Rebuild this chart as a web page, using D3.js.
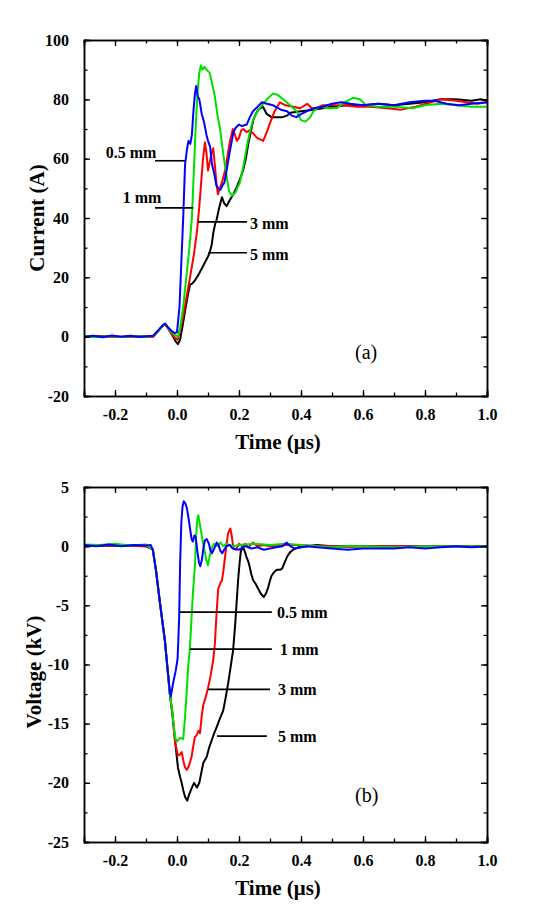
<!DOCTYPE html>
<html><head><meta charset="utf-8">
<script src="https://cdn.jsdelivr.net/npm/d3@7"></script>
<style>body{margin:0;background:#fff}svg{display:block}
svg text{font-family:"Liberation Serif","Times New Roman",serif !important;}</style>
</head><body>
<script>
// ---------- DATA ----------
const seriesNames = ["0.5 mm", "1 mm", "3 mm", "5 mm"];
const seriesColors = ["#0000ff", "#00e000", "#ff0000", "#000000"];

const xTicks = [-0.2, 0.0, 0.2, 0.4, 0.6, 0.8, 1.0];
const xTickLabels = ["-0.2", "0.0", "0.2", "0.4", "0.6", "0.8", "1.0"];
const currentTicks = [-20, 0, 20, 40, 60, 80, 100];
const currentTickLabels = ["-20", "0", "20", "40", "60", "80", "100"];
const voltageTicks = [-25, -20, -15, -10, -5, 0, 5];
const voltageTickLabels = ["-25", "-20", "-15", "-10", "-5", "0", "5"];

// (a) current (A) vs time (us)
const current05 = [[-0.3,0],[-0.27,0.3],[-0.24,-0.2],[-0.21,0.4],[-0.18,0],[-0.15,0.3],[-0.12,-0.1],[-0.09,0.2],[-0.077,0.3],[-0.06,2.2],[-0.045,4],[-0.038,4.4],[-0.03,3.3],[-0.018,2.0],[-0.008,1.2],[0.0,1.5],[0.008,10],[0.014,25],[0.02,40],[0.026,58],[0.032,63],[0.037,66],[0.043,65],[0.048,68],[0.053,76],[0.058,82],[0.062,84.5],[0.067,81],[0.072,80],[0.08,75],[0.088,72],[0.095,68],[0.1,66],[0.107,64],[0.113,58],[0.12,55],[0.127,51],[0.133,50],[0.14,49.5],[0.147,51],[0.153,52],[0.16,56],[0.168,61],[0.175,65],[0.182,69],[0.19,70.5],[0.2,71.5],[0.21,71],[0.225,71.5],[0.235,74],[0.245,76],[0.26,77.5],[0.274,79],[0.29,78.5],[0.31,78],[0.335,76.5],[0.355,76],[0.37,74.5],[0.385,74],[0.4,75],[0.42,76],[0.44,77],[0.47,77.5],[0.5,78.5],[0.53,79],[0.56,78.5],[0.6,78],[0.65,78.5],[0.7,78],[0.75,79],[0.8,79.5],[0.83,79.5],[0.87,78.5],[0.91,78],[0.95,78.5],[1.0,79]];
const current1 = [[-0.3,0.2],[-0.26,-0.2],[-0.22,0.2],[-0.18,-0.1],[-0.14,0.2],[-0.1,0],[-0.077,0.2],[-0.06,2],[-0.045,3.8],[-0.038,4.2],[-0.03,3.2],[-0.018,1.5],[-0.005,0.5],[0.003,0],[0.01,3],[0.02,10],[0.03,20],[0.04,30],[0.048,40],[0.054,55],[0.06,70],[0.066,82],[0.072,89],[0.077,91.5],[0.082,90],[0.088,91],[0.095,90],[0.105,89],[0.112,86],[0.122,81],[0.13,75],[0.139,70],[0.15,61],[0.16,54],[0.168,49],[0.177,47.5],[0.188,48.5],[0.203,52],[0.215,58],[0.225,64],[0.235,69],[0.245,73],[0.26,76],[0.274,78],[0.29,80],[0.31,82],[0.325,81.5],[0.342,80],[0.365,78],[0.386,76],[0.4,73],[0.415,72.5],[0.43,74],[0.44,76],[0.46,77.5],[0.49,77],[0.516,77],[0.54,79],[0.568,80.5],[0.59,80],[0.61,78],[0.65,77.5],[0.7,77.5],[0.76,77],[0.8,78],[0.85,78.5],[0.9,78],[0.95,77.5],[1.0,77.5]];
const current3 = [[-0.3,-0.2],[-0.25,0.2],[-0.2,-0.1],[-0.15,0.1],[-0.1,0],[-0.077,0],[-0.06,2],[-0.045,3.8],[-0.038,4.2],[-0.03,3],[-0.018,1],[-0.005,-0.5],[0.002,-1],[0.01,2],[0.02,7],[0.03,13],[0.042,20],[0.055,28],[0.065,36],[0.072,44],[0.078,52],[0.084,60],[0.09,65.5],[0.095,62],[0.1,56],[0.106,59],[0.112,62],[0.117,63.5],[0.122,58],[0.127,52],[0.132,48],[0.138,50],[0.145,52],[0.155,56],[0.163,61],[0.171,66],[0.18,70],[0.187,68],[0.193,66],[0.2,67],[0.207,69.5],[0.214,70],[0.224,69],[0.235,69.5],[0.246,68.5],[0.258,67],[0.268,66.5],[0.278,66],[0.29,69],[0.3,72],[0.315,76],[0.332,79],[0.35,78],[0.375,77.5],[0.397,77],[0.42,78.5],[0.44,76.5],[0.47,78],[0.536,78],[0.58,77.5],[0.62,77.5],[0.68,77],[0.72,76.5],[0.77,77.5],[0.82,79],[0.85,80],[0.9,79.5],[0.935,79],[0.97,78.5],[1.0,79]];
const current5 = [[-0.3,0],[-0.24,0.2],[-0.18,-0.1],[-0.12,0.1],[-0.077,0],[-0.06,2],[-0.045,3.8],[-0.038,4.2],[-0.03,3],[-0.015,0.5],[-0.005,-1.5],[0.003,-2.5],[0.01,-1],[0.016,2.4],[0.025,8],[0.035,14],[0.042,17.5],[0.05,18],[0.058,19],[0.07,21],[0.08,23],[0.09,25],[0.1,27],[0.106,28.6],[0.112,31],[0.117,35],[0.123,38],[0.128,39.5],[0.135,43],[0.145,47],[0.152,45],[0.16,44],[0.17,46],[0.182,48],[0.193,50.5],[0.203,53],[0.213,56],[0.222,60],[0.23,65],[0.238,69],[0.246,73],[0.254,75],[0.262,76.5],[0.277,77.5],[0.29,75],[0.305,74],[0.322,74],[0.34,74],[0.355,74.5],[0.365,75.5],[0.4,76],[0.44,76.5],[0.5,77.5],[0.55,78],[0.6,78],[0.65,78.5],[0.7,78],[0.75,78.5],[0.8,79],[0.85,80],[0.9,80],[0.95,79.5],[0.98,80],[1.0,79.5]];

// (b) voltage (kV) vs time (us)
const voltage05 = [[-0.3,0.1],[-0.26,0],[-0.22,0.15],[-0.18,0],[-0.14,0.1],[-0.1,0.05],[-0.085,0.1],[-0.078,-0.3],[-0.068,-2],[-0.055,-4.8],[-0.039,-8],[-0.03,-10.5],[-0.023,-12.3],[-0.02,-12.7],[-0.012,-11.5],[-0.004,-10.5],[0.002,-9.5],[0.007,-6],[0.01,-1.5],[0.014,2],[0.018,3.4],[0.022,3.8],[0.027,3.6],[0.032,3.2],[0.037,2.4],[0.042,1.5],[0.047,0.6],[0.051,0.4],[0.056,0.9],[0.06,0.8],[0.066,-0.5],[0.071,-1.4],[0.075,-1.7],[0.08,-1.2],[0.085,-0.2],[0.09,0.5],[0.096,0.6],[0.103,0.2],[0.108,-0.4],[0.113,-0.6],[0.12,-0.2],[0.128,0.3],[0.134,0.1],[0.14,-0.4],[0.146,-0.6],[0.152,-0.3],[0.16,0],[0.17,0.1],[0.18,-0.2],[0.2,-0.3],[0.22,0],[0.24,-0.2],[0.26,-0.1],[0.28,-0.3],[0.3,-0.2],[0.32,-0.1],[0.34,0],[0.354,0.3],[0.365,0],[0.38,-0.2],[0.42,0],[0.45,-0.1],[0.5,-0.2],[0.55,-0.3],[0.6,-0.2],[0.65,-0.2],[0.7,-0.2],[0.75,-0.1],[0.8,-0.2],[0.85,-0.1],[0.9,0],[0.95,-0.1],[1.0,0]];
const voltage1 = [[-0.3,0.15],[-0.25,0.1],[-0.2,0.2],[-0.15,0.05],[-0.1,0.15],[-0.078,-0.3],[-0.068,-2],[-0.055,-4.8],[-0.039,-8],[-0.023,-12.5],[-0.015,-14],[-0.006,-16.2],[0.0,-16.5],[0.01,-16.2],[0.02,-16.3],[0.026,-14.4],[0.031,-12.5],[0.036,-10.2],[0.042,-8.5],[0.047,-6],[0.052,-3.7],[0.058,-1.6],[0.062,1],[0.066,2.4],[0.069,2.6],[0.074,1.8],[0.08,0.9],[0.088,-0.3],[0.095,-1.2],[0.1,-1.6],[0.105,-0.9],[0.113,-0.1],[0.12,0.2],[0.13,0],[0.14,0.3],[0.15,0],[0.16,0.2],[0.18,0],[0.2,0.1],[0.25,0.2],[0.3,0.1],[0.35,0.2],[0.4,0.1],[0.45,0],[0.5,-0.1],[0.55,0],[0.6,0],[0.7,-0.1],[0.8,0],[0.9,0],[1.0,0]];
const voltage3 = [[-0.3,0],[-0.2,0.1],[-0.1,0],[-0.078,-0.3],[-0.068,-2],[-0.055,-4.8],[-0.039,-8],[-0.023,-12.5],[-0.015,-14],[-0.006,-16.6],[0.003,-17.7],[0.01,-17.6],[0.015,-17.4],[0.021,-18.2],[0.026,-18.7],[0.032,-18.9],[0.038,-18.6],[0.047,-17.8],[0.053,-16.8],[0.058,-16.1],[0.063,-16],[0.069,-15.6],[0.074,-15.8],[0.08,-14.3],[0.085,-13.4],[0.092,-12.8],[0.1,-12],[0.108,-11],[0.117,-9.6],[0.122,-8.3],[0.128,-5.5],[0.133,-3.6],[0.14,-3.1],[0.145,-2.9],[0.15,-2],[0.155,-0.9],[0.16,0.2],[0.165,1.1],[0.172,1.5],[0.177,0.8],[0.182,-0.2],[0.19,-0.3],[0.2,0.2],[0.21,0],[0.22,0.2],[0.23,-0.1],[0.245,0.3],[0.26,0],[0.28,0.1],[0.3,0],[0.35,0.1],[0.4,0.1],[0.45,0],[0.5,0],[0.55,-0.1],[0.6,0],[0.7,0],[0.8,0],[0.9,0],[1.0,0]];
const voltage5 = [[-0.3,0],[-0.2,0.05],[-0.1,0],[-0.078,-0.3],[-0.068,-2],[-0.055,-4.8],[-0.039,-8],[-0.023,-12.5],[-0.015,-14.2],[-0.006,-16.5],[0.003,-18.7],[0.01,-19.5],[0.015,-20],[0.02,-20.6],[0.026,-21.2],[0.033,-21.5],[0.039,-21],[0.045,-20.6],[0.05,-20.3],[0.055,-20],[0.06,-20.2],[0.064,-20.4],[0.068,-20.2],[0.072,-20],[0.078,-19.2],[0.085,-18.3],[0.096,-17.8],[0.104,-17],[0.112,-16.4],[0.12,-15.8],[0.128,-15.3],[0.138,-14.6],[0.149,-13.9],[0.157,-12.8],[0.165,-11.6],[0.173,-10.2],[0.181,-8.8],[0.188,-6.5],[0.193,-4.5],[0.197,-2.9],[0.202,-1.4],[0.206,-0.4],[0.213,-0.1],[0.218,-0.4],[0.224,-0.9],[0.23,-1.3],[0.235,-1.8],[0.24,-2.4],[0.246,-2.9],[0.254,-3.2],[0.262,-3.6],[0.27,-4],[0.28,-4.3],[0.287,-4],[0.294,-3.5],[0.3,-2.9],[0.305,-2.5],[0.313,-2.2],[0.322,-2],[0.332,-2],[0.339,-1.9],[0.347,-1.4],[0.355,-0.9],[0.365,-0.5],[0.375,-0.3],[0.39,-0.1],[0.42,0],[0.45,0.1],[0.5,0],[0.55,0],[0.6,0],[0.7,0],[0.8,0],[0.9,0],[1.0,0]];

// annotation leaders in data coords: [t0, t1, value]
const leadersA = [[-0.071,0.026,59.3],[-0.071,0.052,43.4],[0.068,0.226,38.7],[0.1,0.226,28.3]];
const leadersB = [[0.006,0.306,-5.57],[0.042,0.306,-8.7],[0.1,0.3,-12.1],[0.129,0.29,-16.05]];

// ---------- DRAW ----------
const W = 537, H = 919;
const svg = d3.select("body").append("svg").attr("width", W).attr("height", H);
const FONT = "Liberation Serif, Times New Roman, serif";

function panel(cfg) {
  const x = d3.scaleLinear([-0.3, 1.0], [84, 487]);
  const y = d3.scaleLinear(cfg.yDomain, [cfg.bottom, cfg.top]);
  const g = svg.append("g");
  const line = d3.line().x(d => x(d[0])).y(d => y(d[1]));

  // data lines (black under, blue on top)
  [3, 2, 1, 0].forEach(i => {
    g.append("path").datum(cfg.series[i]).attr("d", line)
      .attr("fill", "none").attr("stroke", seriesColors[i])
      .attr("stroke-width", 2).attr("stroke-linejoin", "round");
  });

  const xMinor = d3.range(-0.3, 1.0001, 0.1).map(v => +v.toFixed(2));
  const yMinor = d3.range(cfg.yDomain[0], cfg.yDomain[1] + 1e-9, cfg.yMinorStep);
  const mk = (axis, tr) => g.append("g").attr("transform", tr).call(axis);

  const styleAxis = sel => {
    sel.attr("font-family", null);
    sel.select(".domain").attr("stroke", "#000").attr("stroke-width", 1.5);
    sel.selectAll(".tick line").attr("stroke", "#000").attr("stroke-width", 1.3);
    sel.selectAll("text").style("font-family", FONT).style("font-weight", "bold")
      .style("font-size", "16px").attr("fill", "#000");
    return sel;
  };
  [[d3.axisBottom(x).tickValues(xMinor).tickSize(-3.5).tickFormat(""), `translate(0,${cfg.bottom})`],
   [d3.axisTop(x).tickValues(xMinor).tickSize(-3.5).tickFormat(""), `translate(0,${cfg.top})`],
   [d3.axisLeft(y).tickValues(yMinor).tickSize(-3.5).tickFormat(""), `translate(84,0)`],
   [d3.axisRight(y).tickValues(yMinor).tickSize(-3.5).tickFormat(""), `translate(487,0)`]
  ].forEach(([a, t]) => styleAxis(mk(a, t)));
  styleAxis(mk(d3.axisBottom(x).tickValues(xTicks).tickSize(-6).tickPadding(13)
      .tickFormat((d, i) => xTickLabels[i]), `translate(0,${cfg.bottom})`));
  styleAxis(mk(d3.axisTop(x).tickValues(xTicks).tickSize(-6).tickFormat(""), `translate(0,${cfg.top})`));
  styleAxis(mk(d3.axisLeft(y).tickValues(cfg.yTicks).tickSize(-6).tickPadding(15)
      .tickFormat((d, i) => cfg.yTickLabels[i]), `translate(84,0)`));
  styleAxis(mk(d3.axisRight(y).tickValues(cfg.yTicks).tickSize(-6).tickFormat(""), `translate(487,0)`));

  // leaders + labels
  cfg.leaders.forEach((L, i) => {
    g.append("line").attr("x1", x(L[0])).attr("x2", x(L[1]))
      .attr("y1", y(L[2])).attr("y2", y(L[2]))
      .attr("stroke", "#000").attr("stroke-width", 1.6);
    const lp = cfg.labelPos[i];
    g.append("text").attr("x", lp[0]).attr("y", lp[1]).attr("dy", "0.35em")
      .attr("text-anchor", lp[2]).style("font-family", FONT).style("font-weight", "bold")
      .style("font-size", "16px").text(seriesNames[i]);
  });

  g.append("text").attr("x", cfg.tag[0]).attr("y", cfg.tag[1]).attr("dy", "0.35em")
    .style("font-family", FONT).style("font-size", "20px").text(cfg.tag[2]);

  g.append("text").attr("x", 278).attr("y", cfg.bottom + 46).attr("dy", "0.35em")
    .attr("text-anchor", "middle").style("font-family", FONT).style("font-weight", "bold")
    .style("font-size", "21px").text("Time (\u03bcs)");
  g.append("text").attr("transform", `translate(${cfg.yTitleX},${cfg.yTitleY}) rotate(-90)`)
    .attr("dy", "0.35em").attr("text-anchor", "middle").style("font-family", FONT)
    .style("font-weight", "bold").style("font-size", "21px").text(cfg.yTitle);
}

panel({
  top: 40, bottom: 396, yDomain: [-20, 100], yTicks: currentTicks, yTickLabels: currentTickLabels, yMinorStep: 10,
  series: [current05, current1, current3, current5], leaders: leadersA,
  labelPos: [[131, 152, "middle"], [142, 197, "middle"], [250, 223, "start"], [250, 254, "start"]],
  tag: [355, 352, "(a)"], yTitle: "Current (A)", yTitleX: 37, yTitleY: 218
});
panel({
  top: 487, bottom: 842, yDomain: [-25, 5], yTicks: voltageTicks, yTickLabels: voltageTickLabels, yMinorStep: 2.5,
  series: [voltage05, voltage1, voltage3, voltage5], leaders: leadersB,
  labelPos: [[277, 612, "start"], [280, 649, "start"], [278, 689, "start"], [278, 736, "start"]],
  tag: [355, 795, "(b)"], yTitle: "Voltage (kV)", yTitleX: 34, yTitleY: 672
});
</script>
</body></html>
